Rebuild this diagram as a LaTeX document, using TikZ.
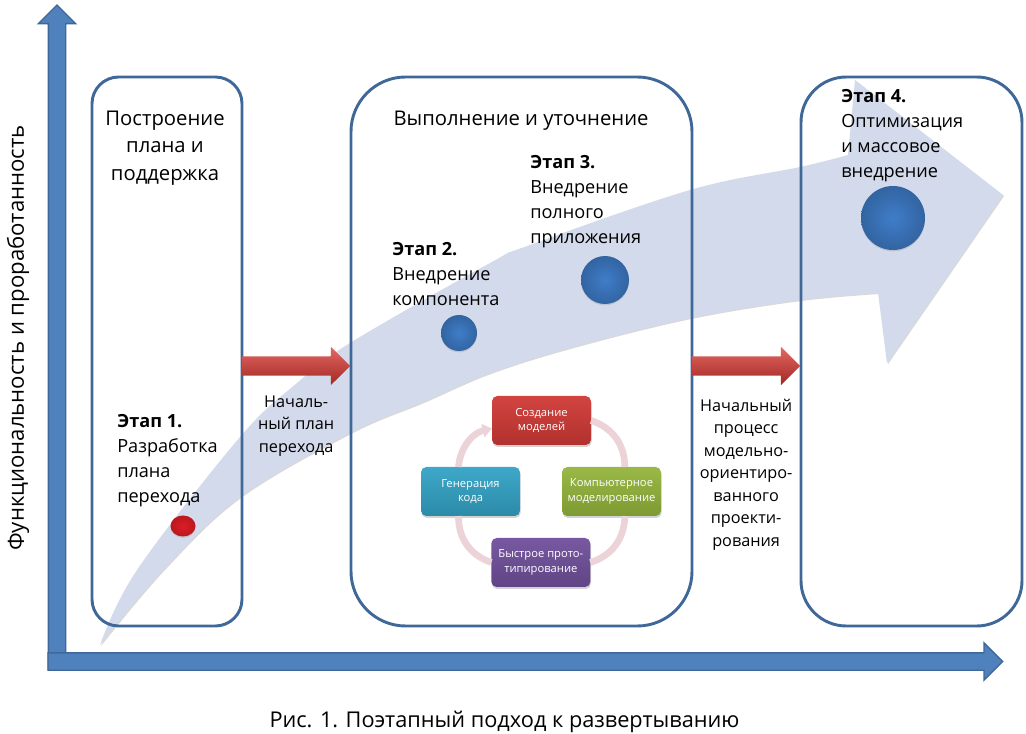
\documentclass[tikz,border=0pt]{standalone}
\usepackage{fontspec}
\setmainfont{Open Sans}
\usetikzlibrary{positioning,shapes.geometric,shapes.arrows,shadows,arrows.meta}

\definecolor{sweepblue}{HTML}{D3DAEB}
\definecolor{frameblue}{HTML}{3F6797}
\definecolor{axisblue}{HTML}{4F81BD}
\definecolor{ballblue}{HTML}{3F7DC9}
\definecolor{ballred}{HTML}{DC1C24}
\definecolor{ringpink}{HTML}{EBD3D8}
\definecolor{flowred}{HTML}{D9352F}
\definecolor{boxred}{HTML}{D03A36}
\definecolor{boxgreen}{HTML}{94B53C}
\definecolor{boxblue}{HTML}{34A3C6}
\definecolor{boxpurple}{HTML}{71509C}

\tikzset{
  phasebox/.style={draw=frameblue, line width=2.2pt, rectangle, outer sep=0pt, minimum height=411.75pt},
  stagetext/.style={anchor=north west, inner sep=0pt, align=left, font=\fontsize{13.6}{18.75}\selectfont},
  headtext/.style={inner sep=0pt, align=center, font=\fontsize{15.2}{20.5}\selectfont},
  notetext/.style={inner sep=0pt, align=center, xshift=3.75pt, font=\fontsize{12.2}{16.9}\selectfont},
  flowarrow/.style={single arrow, anchor=tail, inner xsep=0pt, inner ysep=7.1pt, outer sep=0pt, minimum height=81pt, minimum width=28.5pt,
    single arrow head extend=7pt, top color=flowred!75!white, middle color=flowred, bottom color=flowred!75!black},
  axisarrow/.style={single arrow, anchor=tail, inner sep=6pt, outer sep=0pt, minimum width=27pt, single arrow head extend=7.5pt,
    fill=axisblue, draw=frameblue, line width=1pt},
  stageball/.style={circle, inner sep=0pt, outer sep=0pt, shade, inner color=ballblue, outer color=ballblue!80!black,
    drop shadow={opacity=.25, shadow xshift=0pt, shadow yshift=-1pt}},
  cyclebox/.style={rectangle, rounded corners=4pt, inner sep=0pt, outer sep=0pt, minimum width=74.25pt, minimum height=36.75pt,
    align=center, text=white, font=\fontsize{8.4}{11}\selectfont, top color=#1!95!white, bottom color=#1!85!black,
    drop shadow={opacity=.35, shadow xshift=.5pt, shadow yshift=-1.5pt}},
  cycleline/.style={draw=ringpink, line width=5pt},
}

\begin{document}
\begin{tikzpicture}[x=0.75pt, y=-0.75pt]

  \useasboundingbox (0,0) rectangle (1026,734);

  \path[fill=sweepblue, drop shadow={opacity=.3, shadow xshift=.8pt, shadow yshift=-.8pt}]
    plot[smooth, tension=.6] coordinates {(100,645) (137,570) (240,437) (297,383) (350,343) (490,263) (530,245) (690,190) (800,167) (848,155)}
    -- (855,80) -- (1003,195) -- (887,363) -- (878,293)
    -- plot[smooth, tension=.6] coordinates {(878,293) (800,300) (690,318) (573,347) (490,373) (423,402) (350,433) (240,497) (163,570) (100,645)}
    -- cycle;

  \node (plan) [phasebox, rounded corners=20pt, minimum width=112.5pt] at (167,351.5) {};
  \node (exec) [phasebox, rounded corners=41pt, minimum width=255.75pt, right=81.75pt of plan] {};
  \node (final) [phasebox, rounded corners=34pt, minimum width=165.75pt, right=81.75pt of exec] {};

  \node (axisY) [axisarrow, shape border rotate=90, minimum height=498pt] at (57,669) {};
  \node (axisX) [axisarrow, minimum height=716pt] at (48,661.5) {};

  \node (flowA) [flowarrow] at (plan.east |- 0,366) {};
  \node (flowB) [flowarrow] at (exec.east |- 0,366) {};

  \node (planHead) [headtext] at (165,148) {Построение\\плана и\\поддержка};
  \node (execHead) [headtext] at (521,121) {Выполнение и уточнение};

  \node (noteA) [notetext, below=14.6pt of flowA] {Началь-\\ный план\\перехода};
  \node (noteB) [notetext, below=17.2pt of flowB] {Начальный\\процесс\\модельно-\\ориентиро-\\ванного\\проекти-\\рования};

  \node (stageOne) [stagetext] at (117,414) {\textbf{Этап 1.}\\Разработка\\плана\\перехода};
  \node (stageTwo) [stagetext] at (392,242) {\textbf{Этап 2.}\\Внедрение\\компонента};
  \node (stageThree) [stagetext] at (530,155) {\textbf{Этап 3.}\\Внедрение\\полного\\приложения};
  \node (stageFour) [stagetext] at (841,89) {\textbf{Этап 4.}\\Оптимизация\\и массовое\\внедрение};

  \node (ballOne) [ellipse, inner sep=0pt, minimum width=18.75pt, minimum height=15.75pt, shade, inner color=ballred, outer color=ballred!85!black,
    drop shadow={opacity=.25, shadow xshift=0pt, shadow yshift=-1pt}] at (183,526) {};
  \node (ballTwo) [stageball, minimum size=27pt] at (459,333) {};
  \node (ballThree) [stageball, minimum size=36pt] at (605,280) {};
  \node (ballFour) [stageball, minimum size=48pt] at (893,218) {};

  \node (create) [cyclebox=boxred] at (541.5,420.5) {Создание\\моделей};
  \node (compModel) [cyclebox=boxgreen, below=16.5pt of create, xshift=52.5pt] {Компьютерное\\моделирование};
  \node (genCode) [cyclebox=boxblue, below=16.5pt of create, xshift=-53.25pt] {Генерация\\кода};
  \node (proto) [cyclebox=boxpurple, below=16.5pt of compModel, xshift=-53pt] {Быстрое прото-\\типирование};

  \draw[cycleline] (create.east) to[bend left=36] ([xshift=10pt]compModel.north);
  \draw[cycleline] ([xshift=10pt]compModel.south) to[bend left=36] (proto.east);
  \draw[cycleline] (proto.west) to[bend left=36] ([xshift=-9pt]genCode.south);
  \draw[cycleline, -{Triangle[length=7pt, width=10pt]}] ([xshift=-9pt]genCode.north) to[bend left=36] ([yshift=-6pt]create.west);

  \node (axisNameY) [rotate=90, inner sep=0pt, font=\fontsize{16.6}{18}\selectfont] at (18,338) {Функциональность и проработанность};
  \node (caption) [inner sep=0pt, font=\fontsize{16.3}{18}\selectfont] at (504.5,722) {Рис. 1. Поэтапный подход к развертыванию};

\end{tikzpicture}
\end{document}
